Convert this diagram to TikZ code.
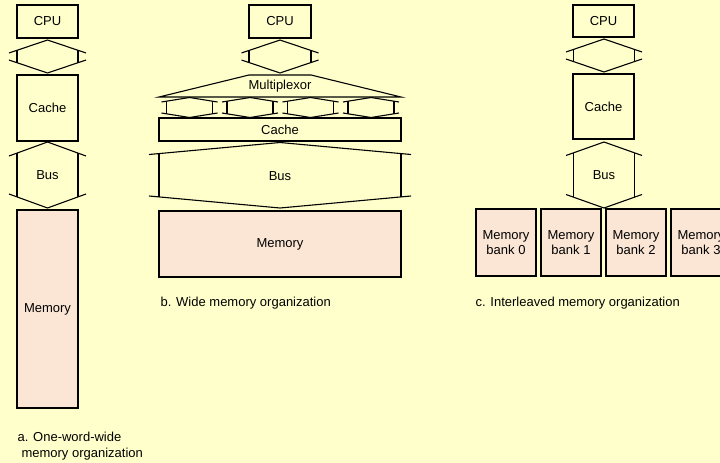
\documentclass[tikz,border=0pt]{standalone}
\usepackage{fontspec}
\setmainfont{Liberation Sans}
\definecolor{bg}{HTML}{FFFFCC}
\definecolor{memc}{HTML}{FBE6D5}
% cx, ytop, ybot, half shaft width, half barb width, head height
\newcommand{\dblarrow}[6]{%
  \draw ({#1-#5},{#2+#6}) -- (#1,#2) -- ({#1+#5},{#2+#6});
  \draw ({#1-#5},{#3-#6}) -- (#1,#3) -- ({#1+#5},{#3-#6});
  \draw ({#1-#4},{#2+#6*#4/#5}) -- ({#1-#4},{#3-#6*#4/#5});
  \draw ({#1+#4},{#2+#6*#4/#5}) -- ({#1+#4},{#3-#6*#4/#5});
}
\begin{document}
\begin{tikzpicture}[x=1pt,y=-1pt,line width=1.1pt,
  font=\fontsize{13}{15}\selectfont,
  box/.style={draw, inner sep=0pt, align=center},
  membox/.style={box, fill=memc},
  lbl/.style={inner sep=0pt, anchor=west, align=left}]
\useasboundingbox[fill=bg] (0,0) rectangle (720,463);

% ---- a. one-word-wide
\node[box, minimum width=61pt, minimum height=33pt] (cpuA) at (47.5,21.5) {CPU};
\node[box, minimum width=61pt, minimum height=66pt] (cacheA) at (47.5,108) {Cache};
\node[membox, minimum width=61pt, minimum height=198pt] (memA) at (47.5,309) {Memory};
\dblarrow{47.5}{40}{73}{30.5}{38.5}{13}
\dblarrow{47.5}{142}{208}{30.5}{38.5}{14}
\node (busA) at (47.5,175) {Bus};
\node[lbl] (capA1) at (17,437) {a. One-word-wide};
\node[lbl] (capA2) at (21,454) {memory organization};

% ---- b. wide
\node[box, minimum width=62pt, minimum height=33pt] (cpuB) at (280,21.5) {CPU};
\dblarrow{280}{40}{73}{31}{38.5}{13}
\draw (249,75) -- (311,75) -- (401,97) -- (159,97) -- cycle;
\node (muxB) at (280,86) {Multiplexor};
\dblarrow{189.5}{97.5}{117.5}{23}{28}{4.5}
\dblarrow{250}{97.5}{117.5}{23}{28}{4.5}
\dblarrow{310.5}{97.5}{117.5}{23}{28}{4.5}
\dblarrow{371}{97.5}{117.5}{23}{28}{4.5}
\node[box, minimum width=242pt, minimum height=23pt] (cacheB) at (280,129.5) {Cache};
\dblarrow{280}{142.5}{208}{121}{131}{12}
\node (busB) at (280,176) {Bus};
\node[membox, minimum width=242pt, minimum height=66pt] (memB) at (280,244) {Memory};
\node[lbl] (capB) at (160,303) {b. Wide memory organization};

% ---- c. interleaved
\node[box, minimum width=61pt, minimum height=32pt] (cpuC) at (603.5,21) {CPU};
\dblarrow{604}{39}{72}{30.5}{38}{13}
\node[box, minimum width=61pt, minimum height=65pt] (cacheC) at (603.5,106.5) {Cache};
\dblarrow{604}{142}{208}{30.5}{38}{13.5}
\node (busC) at (604,175) {Bus};
\foreach \i/\x in {0/506,1/571,2/636,3/701}{
  \node[membox, minimum width=60pt, minimum height=67pt] (bank\i) at (\x,242.5) {Memory\\bank \i};
}
\node[lbl] (capC) at (475,303) {c. Interleaved memory organization};
\end{tikzpicture}
\end{document}
